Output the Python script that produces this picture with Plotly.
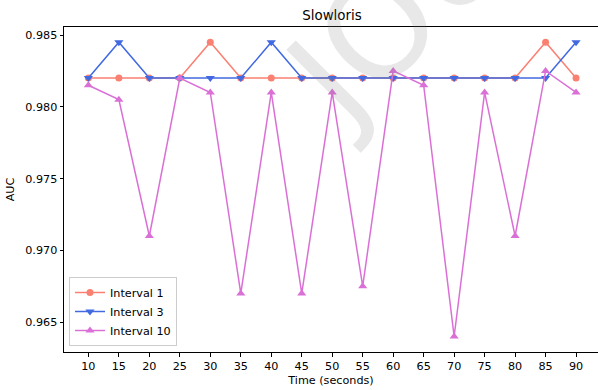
import plotly.graph_objects as go

times = [10, 15, 20, 25, 30, 35, 40, 45, 50, 55, 60, 65, 70, 75, 80, 85, 90]
interval_1 = [0.982, 0.982, 0.982, 0.982, 0.9845, 0.982, 0.982, 0.982, 0.982,
              0.982, 0.982, 0.982, 0.982, 0.982, 0.982, 0.9845, 0.982]
interval_3 = [0.982, 0.9845, 0.982, 0.982, 0.982, 0.982, 0.9845, 0.982, 0.982,
              0.982, 0.982, 0.982, 0.982, 0.982, 0.982, 0.982, 0.9845]
interval_10 = [0.9815, 0.9805, 0.971, 0.982, 0.981, 0.967, 0.981, 0.967, 0.981,
               0.9675, 0.9825, 0.9815, 0.964, 0.981, 0.971, 0.9825, 0.981]
y_ticks = [0.965, 0.970, 0.975, 0.980, 0.985]

FONT = "DejaVu Sans"

fig = go.Figure()
fig.add_trace(go.Scatter(x=times, y=interval_1, name="Interval 1", mode="lines+markers",
                         line=dict(color="#FA8072", width=1.5),
                         marker=dict(symbol="circle", size=7, color="#FA8072")))
fig.add_trace(go.Scatter(x=times, y=interval_3, name="Interval 3", mode="lines+markers",
                         line=dict(color="#4169E1", width=1.5),
                         marker=dict(symbol="triangle-down", size=8, color="#4169E1")))
fig.add_trace(go.Scatter(x=times, y=interval_10, name="Interval 10", mode="lines+markers",
                         line=dict(color="#DA70D6", width=1.5),
                         marker=dict(symbol="triangle-up", size=8, color="#DA70D6")))

fig.add_annotation(text="JOU", xref="paper", yref="paper",
                   x=(398 - 64) / 534, y=(352 - 12) / 325,
                   xanchor="center", yanchor="middle",
                   showarrow=False, textangle=-45,
                   font=dict(family=FONT, size=135, color="rgba(128,128,128,0.18)"))

fig.update_layout(
    width=598, height=390,
    margin=dict(l=64, r=0, t=27, b=38),
    paper_bgcolor="white", plot_bgcolor="white",
    font=dict(family=FONT, size=11.2, color="black"),
    title=dict(text="Slowloris", x=(64 + 600) / 2 / 598, xanchor="center",
               y=1 - 15 / 390, yanchor="middle", font=dict(size=13.4)),
    showlegend=True,
    legend=dict(x=(69 - 64) / 534, y=(352 - 346) / 325, xanchor="left", yanchor="bottom",
                bgcolor="rgba(255,255,255,0.8)", bordercolor="#cccccc", borderwidth=1,
                font=dict(size=11.2), itemwidth=30, tracegroupgap=0),
    xaxis=dict(range=[6, 93.6], tickvals=times, ticks="outside", ticklen=3.5,
               tickcolor="black", showline=True, linecolor="black", linewidth=1,
               mirror=True, showgrid=False, zeroline=False, automargin=False,
               title=dict(text="Time (seconds)", standoff=4, font=dict(size=11.2))),
    yaxis=dict(range=[0.96292, 0.98556], tickvals=y_ticks, tickformat=".3f",
               ticks="outside", ticklen=3.5, tickcolor="black", showline=True,
               linecolor="black", linewidth=1, showgrid=False, zeroline=False,
               automargin=False,
               title=dict(text="AUC", standoff=8, font=dict(size=11.2))),
)

fig.write_html("out.html", config={"displayModeBar": False},
               post_script="document.body.style.margin='0';")
